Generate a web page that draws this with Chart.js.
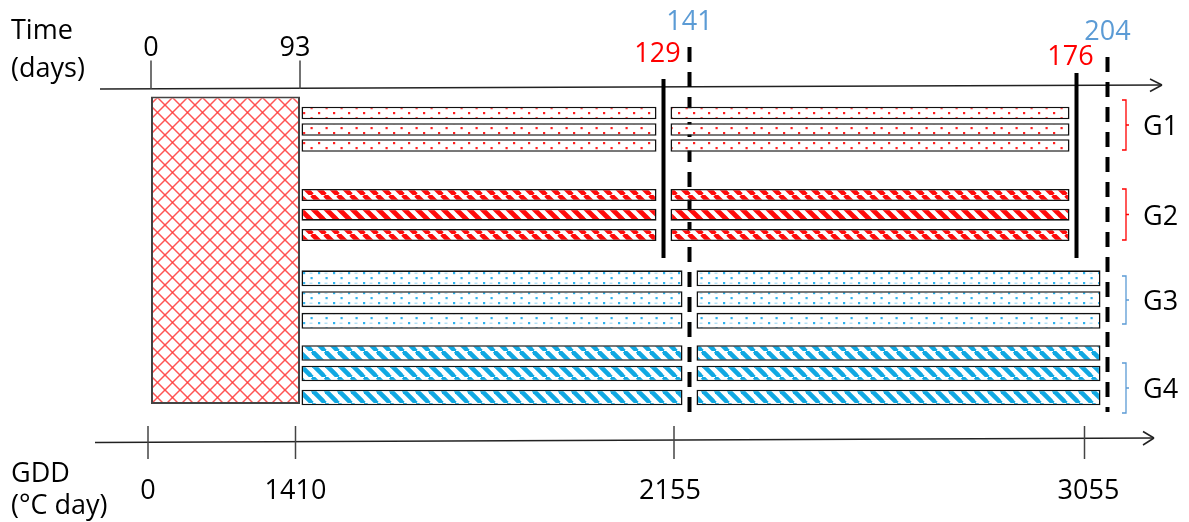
<!DOCTYPE html>
<html>
<head>
<meta charset="utf-8">
<script src="https://cdn.jsdelivr.net/npm/chart.js@4.4.1/dist/chart.umd.min.js"></script>
<style>
  html, body { margin: 0; padding: 0; background: #fff; }
  #wrap { width: 1189px; height: 522px; position: relative; }
</style>
</head>
<body>
<div id="wrap"><canvas id="myChart"></canvas></div>
<script>
// ---- data ----
const TIME_TICKS = [0, 93];
const RED_DAYS = [129, 176];
const BLUE_DAYS = [141, 204];
const GDD_TICKS = [0, 1410, 2155, 3055];
const GROUPS = ['G1', 'G2', 'G3', 'G4'];
const REPLICATES = [1, 2, 3];
const NURSERY = [0, 93];
const RED_SEGMENTS = [[93, 129], [129, 176]];
const BLUE_SEGMENTS = [[93, 141], [141, 204]];

// ---- layout (schematic, the figure is not to scale) ----
const W = 1189, H = 522;
const TIME_POS = [[0, 151], [93, 300], [129, 663.5], [141, 689.5], [176, 1076.5], [204, 1107.5]];
const GDD_POS = [[0, 148], [1410, 295.5], [2155, 674], [3055, 1084.5]];
const LANES = [[113, 129.5, 145.5], [195, 214.7, 235], [278.3, 299.2, 320.8], [353, 373.5, 397.5]];
const LANE_H = [12.5, 12, 16, 15.5];
const BLOCK_Y = [96.5, 404];
const BRACKETS = [[100, 150], [189, 240], [276, 324], [363, 413]];
const RED_LINE_TOP = [79, 73], RED_LABEL_Y = [62, 65];
const BLUE_LINE_TOP = [47, 57], BLUE_LABEL_Y = [30, 40];
const GAP = 7;

const RED = '#ff0000', BLUE = '#5b9bd5';
const FONT = '27px "Open Sans", "DejaVu Sans", sans-serif';

// piecewise scale: days / GDD placed at the schematic positions of the figure
const STOPS = { x: TIME_POS, g: GDD_POS };
class SchematicScale extends Chart.LinearScale {
  getPixelForValue(v) {
    const s = STOPS[this.id];
    let i = 0;
    while (i < s.length - 2 && v > s[i + 1][0]) i++;
    const [v0, p0] = s[i], [v1, p1] = s[i + 1];
    return this.getPixelForDecimal((p0 + (v - v0) * (p1 - p0) / (v1 - v0)) / W);
  }
  getValueForPixel(px) {
    const s = STOPS[this.id];
    const p = this.getDecimalForPixel(px) * W;
    let i = 0;
    while (i < s.length - 2 && p > s[i + 1][1]) i++;
    const [v0, p0] = s[i], [v1, p1] = s[i + 1];
    return v0 + (p - p0) * (v1 - v0) / (p1 - p0);
  }
}
SchematicScale.id = 'schematic';
SchematicScale.defaults = Chart.LinearScale.defaults;
Chart.register(SchematicScale);

const ctx = document.getElementById('myChart');
const c2d = ctx.getContext('2d');

function tile(w, h, draw) {
  const c = document.createElement('canvas');
  c.width = w; c.height = h;
  const g = c.getContext('2d');
  g.fillStyle = '#fff';
  g.fillRect(0, 0, w, h);
  draw(g, w, h);
  return c2d.createPattern(c, 'repeat');
}
function stripes(p, lw, col) {
  return tile(p, p, (g) => {
    g.strokeStyle = col; g.lineWidth = lw;
    for (let k = -1; k <= 1; k++) {
      g.beginPath(); g.moveTo(k * p, 0); g.lineTo(k * p + p, p); g.stroke();
    }
  });
}
function dots(col, dash) {
  return tile(15, 10, (g) => {
    g.fillStyle = col;
    g.fillRect(3, 2, 2.2, 2.2);
    g.fillRect(10.5, 7, 2.2, 2.2);
    if (dash) { g.fillStyle = dash; g.fillRect(9.5, 2.6, 3, 1.2); }
  });
}
const crossHatch = tile(15, 15, (g) => {
  g.strokeStyle = 'rgba(255,55,55,0.85)'; g.lineWidth = 1.5;
  for (let k = -1; k <= 1; k++) {
    g.beginPath(); g.moveTo(k * 15, 0); g.lineTo(k * 15 + 15, 15); g.stroke();
    g.beginPath(); g.moveTo(k * 15 + 15, 0); g.lineTo(k * 15, 15); g.stroke();
  }
});
const FILLS = [
  dots('#ff2020'),
  stripes(13, 4.8, '#ff0a0a'),
  dots('#2fb2ee', '#a5dbf5'),
  stripes(13.5, 4.6, '#10a8e2')
];

const datasets = [{
  data: [{ x: NURSERY, y: (BLOCK_Y[0] + BLOCK_Y[1]) / 2 }],
  backgroundColor: crossHatch,
  borderColor: '#444',
  borderWidth: 2,
  maxBarThickness: BLOCK_Y[1] - BLOCK_Y[0]
}];
GROUPS.forEach((name, g) => {
  const segs = g < 2 ? RED_SEGMENTS : BLUE_SEGMENTS;
  datasets.push({
    label: name,
    lane: true,
    data: REPLICATES.flatMap((r, ri) => segs.map(s => ({ x: s, y: LANES[g][ri] }))),
    backgroundColor: FILLS[g],
    borderColor: '#111',
    borderWidth: 1.6,
    maxBarThickness: LANE_H[g]
  });
});

// leave the little gaps where bars meet the stage lines
const gapPlugin = {
  id: 'gaps',
  afterDatasetsUpdate(chart) {
    chart.data.datasets.forEach((ds, d) => {
      if (!ds.lane) return;
      chart.getDatasetMeta(d).data.forEach((bar, i) => {
        const start = ds.data[i].x[0];
        bar.base += start === NURSERY[1] ? 1.5 : GAP;
        bar.x -= GAP;
      });
    });
  }
};

function line(g, x1, y1, x2, y2) {
  g.beginPath(); g.moveTo(x1, y1); g.lineTo(x2, y2); g.stroke();
}

const diagram = {
  id: 'diagram',
  beforeDatasetsDraw(chart) {
    const g = chart.ctx, xs = chart.scales.x, gs = chart.scales.g, ys = chart.scales.y;
    const Y = v => ys.getPixelForValue(v);
    g.save();
    g.lineCap = 'butt';
    // time axis
    g.strokeStyle = '#222'; g.lineWidth = 1.5;
    const tx0 = xs.getPixelForValue(0) - 51, tx1 = chart.chartArea.right - 27;
    line(g, tx0, Y(89), tx1, Y(85));
    line(g, tx1 - 12, Y(79), tx1, Y(85));
    line(g, tx1 - 12, Y(91.5), tx1, Y(85));
    g.strokeStyle = '#444';
    TIME_TICKS.forEach(d => line(g, xs.getPixelForValue(d), Y(60.5), xs.getPixelForValue(d), Y(89)));
    // GDD axis
    g.strokeStyle = '#222';
    const bx0 = gs.getPixelForValue(0) - 53, bx1 = chart.chartArea.right - 35;
    line(g, bx0, Y(442.5), bx1, Y(438));
    line(g, bx1 - 11, Y(431.5), bx1, Y(438));
    line(g, bx1 - 11, Y(445), bx1, Y(438));
    g.strokeStyle = '#444';
    GDD_TICKS.forEach(v => line(g, gs.getPixelForValue(v), Y(426), gs.getPixelForValue(v), Y(459)));
    // dashed stage lines run behind the bars
    g.strokeStyle = '#000'; g.lineWidth = 4; g.setLineDash([15, 10]);
    BLUE_DAYS.forEach((d, i) => line(g, xs.getPixelForValue(d), Y(BLUE_LINE_TOP[i]), xs.getPixelForValue(d), Y(412)));
    g.restore();
  },
  afterDatasetsDraw(chart) {
    const g = chart.ctx, xs = chart.scales.x, gs = chart.scales.g, ys = chart.scales.y;
    const Y = v => ys.getPixelForValue(v);
    g.save();
    g.strokeStyle = '#000'; g.lineWidth = 4;
    RED_DAYS.forEach((d, i) => line(g, xs.getPixelForValue(d), Y(RED_LINE_TOP[i]), xs.getPixelForValue(d), Y(258)));

    g.font = FONT; g.textBaseline = 'alphabetic';
    g.fillStyle = '#000';
    g.textAlign = 'left';
    g.fillText('Time', 11, Y(39));
    g.fillText('(days)', 11, Y(77));
    g.fillText('GDD', 11, Y(482));
    g.fillText('(\u00B0C day)', 11, Y(514));
    g.textAlign = 'center';
    TIME_TICKS.forEach(d => g.fillText(String(d), xs.getPixelForValue(d) - (d ? 5 : 0), Y(56)));
    GDD_TICKS.forEach(v => g.fillText(String(v), gs.getPixelForValue(v) - (v === 2155 ? 4 : v === 3055 ? -4 : 0), Y(499)));
    g.fillStyle = RED;
    RED_DAYS.forEach((d, i) => g.fillText(String(d), xs.getPixelForValue(d) - 6, Y(RED_LABEL_Y[i])));
    g.fillStyle = BLUE;
    BLUE_DAYS.forEach((d, i) => g.fillText(String(d), xs.getPixelForValue(d), Y(BLUE_LABEL_Y[i])));

    // group brackets
    const bx = chart.chartArea.right - 63;
    g.lineWidth = 1.3;
    g.textAlign = 'left';
    GROUPS.forEach((name, i) => {
      const [t, b] = BRACKETS[i].map(Y), m = (t + b) / 2;
      g.strokeStyle = i < 2 ? RED : BLUE;
      g.beginPath();
      g.moveTo(bx - 4, t); g.lineTo(bx, t); g.lineTo(bx, b); g.lineTo(bx - 4, b);
      g.moveTo(bx, m); g.lineTo(bx + 3, m);
      g.stroke();
      g.fillStyle = '#000';
      g.fillText(name, bx + 17, m + 10);
    });
    g.restore();
  }
};

new Chart(ctx, {
  type: 'bar',
  data: { datasets },
  options: {
    indexAxis: 'y',
    responsive: true,
    maintainAspectRatio: false,
    animation: false,
    grouped: false,
    categoryPercentage: 1,
    barPercentage: 60,
    borderSkipped: false,
    layout: { padding: 0 },
    plugins: { legend: { display: false }, tooltip: { enabled: false } },
    scales: {
      x: { type: 'schematic', display: false, stacked: false, offset: false },
      g: { type: 'schematic', axis: 'x', position: 'bottom', display: false, min: 0, max: 3500, offset: false },
      y: { type: 'linear', min: 0, max: H, reverse: true, display: false, offset: false }
    }
  },
  plugins: [gapPlugin, diagram]
});
</script>
</body>
</html>
